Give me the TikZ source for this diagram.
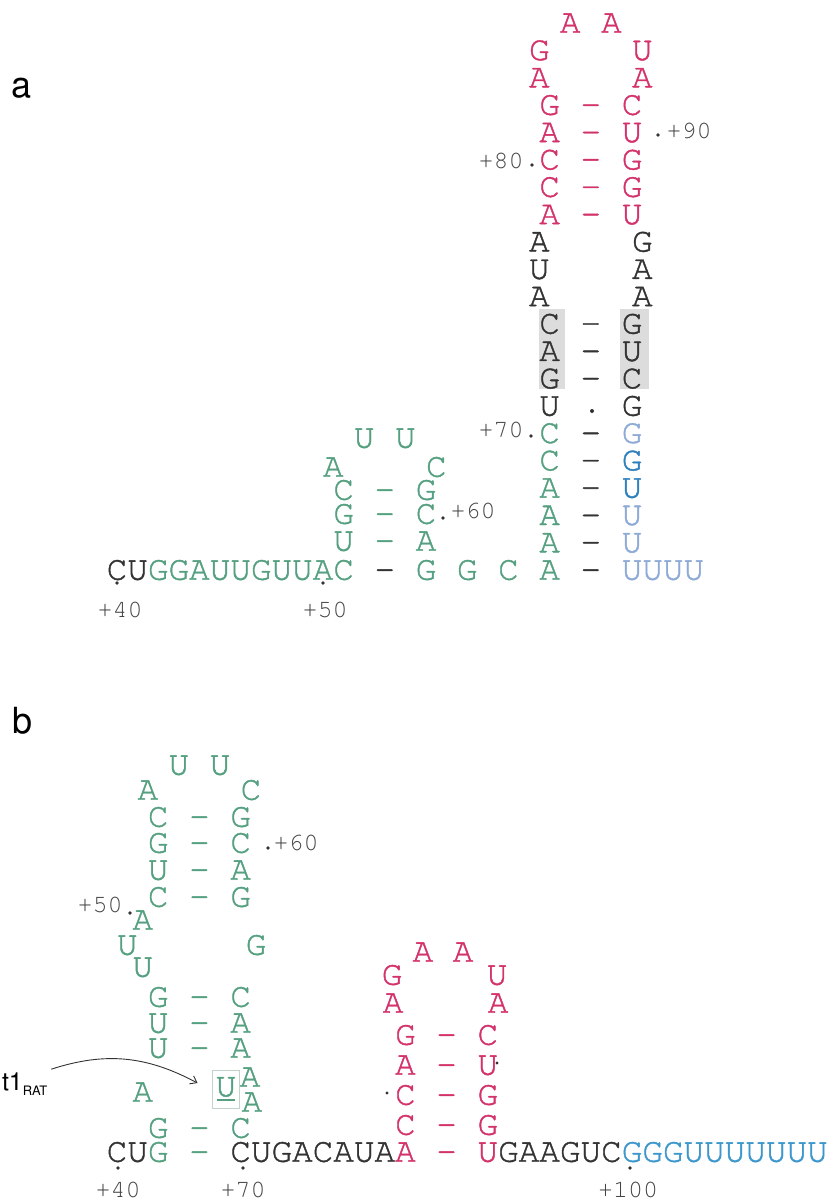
\documentclass[tikz,border=0pt]{standalone}
\usepackage[T1]{fontenc}
\usetikzlibrary{arrows.meta}
\definecolor{pk}{HTML}{D4326A}
\definecolor{gr}{HTML}{55A080}
\definecolor{dk}{HTML}{333333}
\definecolor{lb}{HTML}{8EAAD6}
\definecolor{mb}{HTML}{2E80BC}
\definecolor{bb}{HTML}{3C97CC}
\definecolor{lg}{HTML}{444444}
\definecolor{pairgray}{HTML}{DCDCDC}
\definecolor{boxc}{HTML}{C2D4CA}
\newcommand\ntfont{\fontfamily{pcr}\fontsize{34.33}{40}\selectfont}
\newcommand\labfont{\fontfamily{pcr}\fontsize{25}{30}\selectfont}
\newcommand\pnfont{\fontfamily{phv}\fontsize{36}{40}\selectfont}
% slightly heavier strokes for the sequence letters
\newcommand\heavy{\special{pdf:literal direct 2 Tr 0.4 w}}
% nucleotide on the grid of panel a: name, column, row, colour, letter
\newcommand\na[5]{\node[nt,text=#4] (#1) at ({117+20.6*(#2)},{-(23+27.35*(#3))-9.7}) {#5};}
% nucleotide at a column and a free height: name, column, y, colour, letter
\newcommand\nb[5]{\node[nt,text=#4] (#1) at ({117+20.6*(#2)},{-(#3)-9.7}) {#5};}
\tikzset{
  nt/.style={inner sep=0pt, outer sep=0pt, anchor=base, font=\ntfont\heavy},
  lab/.style={inner sep=0pt, outer sep=0pt, anchor=center, font=\labfont, text=lg},
  dotmark/.style={fill=dk},
  arr/.style={draw=dk, line width=0.9pt, -{Straight Barb[length=6pt,width=9pt]}},
}
\begin{document}
\begin{tikzpicture}[x=1pt,y=1pt]
\useasboundingbox (0,0) rectangle (831,-1203);
\fill[white] (0,0) rectangle (831,-1203);

% ---------------- panel a ----------------
\node[inner sep=0pt, anchor=base west, font=\pnfont, text=black] (pa) at (11,-97) {a};

% shaded pairs
\fill[pairgray] (539,-309) rectangle (565,-389);
\fill[pairgray] (620,-309) rectangle (649,-389);

% terminal loop and upper stem
\na{a0l}{22}{0}{pk}{A} \na{a0r}{24}{0}{pk}{A}
\na{a1l}{20.5}{1}{pk}{G} \na{a1r}{25.5}{1}{pk}{U}
\na{a2l}{20.5}{2}{pk}{A} \na{a2r}{25.5}{2}{pk}{A}
\na{a3l}{21}{3}{pk}{G} \na{a3d}{23}{3}{pk}{-} \na{a3r}{25}{3}{pk}{C}
\na{a4l}{21}{4}{pk}{A} \na{a4d}{23}{4}{pk}{-} \na{a4r}{25}{4}{pk}{U}
\na{a5l}{21}{5}{pk}{C} \na{a5d}{23}{5}{pk}{-} \na{a5r}{25}{5}{pk}{G}
\na{a6l}{21}{6}{pk}{C} \na{a6d}{23}{6}{pk}{-} \na{a6r}{25}{6}{pk}{G}
\na{a7l}{21}{7}{pk}{A} \na{a7d}{23}{7}{pk}{-} \na{a7r}{25}{7}{pk}{U}
% internal loop
\na{a8l}{20.5}{8}{dk}{A} \na{a8r}{25.5}{8}{dk}{G}
\na{a9l}{20.5}{9}{dk}{U} \na{a9r}{25.5}{9}{dk}{A}
\na{a10l}{20.5}{10}{dk}{A} \na{a10r}{25.5}{10}{dk}{A}
% lower stem
\na{a11l}{21}{11}{dk}{C} \na{a11d}{23}{11}{dk}{-} \na{a11r}{25}{11}{dk}{G}
\na{a12l}{21}{12}{dk}{A} \na{a12d}{23}{12}{dk}{-} \na{a12r}{25}{12}{dk}{U}
\na{a13l}{21}{13}{dk}{G} \na{a13d}{23}{13}{dk}{-} \na{a13r}{25}{13}{dk}{C}
\na{a14l}{21}{14}{dk}{U} \na{a14r}{25}{14}{dk}{G}
\fill[dk] (592,-411) circle (2);
\na{a15l}{21}{15}{gr}{C} \na{a15d}{23}{15}{dk}{-} \na{a15r}{25}{15}{lb}{G}
\na{a16l}{21}{16}{gr}{C} \na{a16d}{23}{16}{dk}{-} \na{a16r}{25}{16}{mb}{G}
\na{a17l}{21}{17}{gr}{A} \na{a17d}{23}{17}{lg}{-} \na{a17r}{25}{17}{mb}{U}
\na{a18l}{21}{18}{gr}{A} \na{a18d}{23}{18}{dk}{-} \na{a18r}{25}{18}{lb}{U}
\na{a19l}{21}{19}{gr}{A} \na{a19d}{23}{19}{dk}{-} \na{a19r}{25}{19}{lb}{U}

% small hairpin
\nb{s0l}{12}{438}{gr}{U} \nb{s0r}{14}{438}{gr}{U}
\nb{s1l}{10.5}{467}{gr}{A} \nb{s1r}{15.5}{467}{gr}{C}
\nb{s2l}{11}{490}{gr}{C} \nb{s2d}{13}{490}{gr}{-} \nb{s2r}{15}{490}{gr}{G}
\nb{s3l}{11}{514}{gr}{G} \nb{s3d}{13}{514}{gr}{-} \nb{s3r}{15}{514}{gr}{C}
\nb{s4l}{11}{541}{gr}{U} \nb{s4d}{13}{541}{gr}{-} \nb{s4r}{15}{541}{gr}{A}

% base line of panel a
\foreach \k/\ch/\col in {0/C/dk,1/U/dk,2/G/gr,3/G/gr,4/A/gr,5/U/gr,6/U/gr,7/G/gr,
  8/U/gr,9/U/gr,10/A/gr,11/C/gr,13/-/dk,15/G/gr,17/G/gr,19/C/gr,21/A/gr,23/-/dk,
  25/U/lb,26/U/lb,27/U/lb,28/U/lb}
  {\nb{ab\k}{\k}{570}{\col}{\ch}}

% numbering of panel a
\node[lab] (a80) at (501,-161) {+80}; \fill[dotmark] (532,-165) circle (1.8);
\node[lab] (a90) at (689,-131) {+90}; \fill[dotmark] (658,-135) circle (1.8);
\node[lab] (a70) at (501,-430) {+70}; \fill[dotmark] (531,-436) circle (1.8);
\node[lab] (a60) at (473,-511) {+60}; \fill[dotmark] (443,-518) circle (1.8);
\node[lab] (a40) at (120,-610) {+40}; \fill[dotmark] (117,-583) circle (1.8);
\node[lab] (a50) at (325,-610) {+50}; \fill[dotmark] (323,-583) circle (1.8);

% ---------------- panel b ----------------
\node[inner sep=0pt, anchor=base west, font=\pnfont, text=black] (pb) at (12,-733) {b};

% left hairpin
\nb{b0l}{3}{765}{gr}{U} \nb{b0r}{5}{765}{gr}{U}
\nb{b1l}{1.5}{790}{gr}{A} \nb{b1r}{6.5}{790}{gr}{C}
\nb{b2l}{2}{817}{gr}{C} \nb{b2d}{4}{817}{gr}{-} \nb{b2r}{6}{817}{gr}{G}
\nb{b3l}{2}{843}{gr}{G} \nb{b3d}{4}{843}{gr}{-} \nb{b3r}{6}{843}{gr}{C}
\nb{b4l}{2}{870}{gr}{U} \nb{b4d}{4}{870}{gr}{-} \nb{b4r}{6}{870}{gr}{A}
\nb{b5l}{2}{897}{gr}{C} \nb{b5d}{4}{897}{gr}{-} \nb{b5r}{6}{897}{gr}{G}
\nb{b6l}{1.25}{920}{gr}{A}
\nb{b7l}{0.5}{945}{gr}{U} \nb{b7r}{6.75}{945}{gr}{G}
\nb{b8l}{1.25}{967}{gr}{U}
\nb{b9l}{2}{997}{gr}{G} \nb{b9d}{4}{997}{gr}{-} \nb{b9r}{6}{997}{gr}{C}
\nb{b10l}{2}{1023}{gr}{U} \nb{b10d}{4}{1023}{gr}{-} \nb{b10r}{6}{1023}{gr}{A}
\nb{b11l}{2}{1048}{gr}{U} \nb{b11d}{4}{1048}{gr}{-} \nb{b11r}{6}{1048}{gr}{A}
\nb{b12l}{1.25}{1092}{gr}{A}
% the marked nucleotide, boxed and underlined
\node[nt, anchor=center, text=gr, draw=boxc, line width=0.9pt,
      minimum width=27pt, minimum height=38pt] (boxU) at (226,-1089)
      {\rlap{\hspace{1.3pt}\rule[-4.5pt]{18pt}{1.8pt}}U};
\nb{b12a}{6.46}{1077}{gr}{A} \nb{b12b}{6.55}{1102}{gr}{A}
\nb{b13l}{2}{1128}{gr}{G} \nb{b13d}{4}{1128}{gr}{-} \nb{b13r}{6}{1128}{gr}{C}

% right hairpin
\nb{c0l}{14.85}{952}{pk}{A} \nb{c0r}{16.8}{952}{pk}{A}
\nb{c1l}{13.35}{975}{pk}{G} \nb{c1r}{18.45}{975}{pk}{U}
\nb{c2l}{13.4}{1003}{pk}{A} \nb{c2r}{18.5}{1003}{pk}{A}
\nb{c3l}{14}{1035}{pk}{G} \nb{c3d}{16}{1035}{pk}{-} \nb{c3r}{18}{1035}{pk}{C}
\nb{c4l}{14}{1065}{pk}{A} \nb{c4d}{16}{1065}{pk}{-} \nb{c4r}{18}{1065}{pk}{U}
\nb{c5l}{14}{1095}{pk}{C} \nb{c5d}{16}{1095}{pk}{-} \nb{c5r}{18}{1095}{pk}{G}
\nb{c6l}{14}{1125}{pk}{C} \nb{c6d}{16}{1125}{pk}{-} \nb{c6r}{18}{1125}{pk}{G}
\fill[dotmark] (497,-1063) circle (1.6);
\fill[dotmark] (387,-1093) circle (1.6);

% base line of panel b
\foreach \k/\ch/\col in {0/C/dk,1/U/dk,2/G/gr,4/-/gr,6/C/dk,7/U/dk,8/G/dk,9/A/dk,
  10/C/dk,11/A/dk,12/U/dk,13/A/dk,14/A/pk,16/-/pk,18/U/pk,19/G/dk,20/A/dk,21/A/dk,
  22/G/dk,23/U/dk,24/C/dk,25/G/bb,26/G/bb,27/G/bb,28/U/bb,29/U/bb,30/U/bb,31/U/bb,
  32/U/bb,33/U/bb,34/U/bb}
  {\nb{bb\k}{\k}{1152}{\col}{\ch}}

% numbering of panel b
\node[lab] (b60) at (296,-843) {+60}; \fill[dotmark] (268,-848) circle (1.8);
\node[lab] (b50) at (100,-905) {+50}; \fill[dotmark] (130,-913) circle (1.8);
\node[lab] (b40) at (118,-1190) {+40}; \fill[dotmark] (118,-1168) circle (1.8);
\node[lab] (b70) at (243,-1190) {+70}; \fill[dotmark] (243,-1168) circle (1.8);
\node[lab] (b100) at (628,-1190) {+100}; \fill[dotmark] (630,-1168) circle (1.8);

% transcription start marker
\node[inner sep=0pt, outer sep=0pt, anchor=base west, text=black,
      font=\fontfamily{phv}\fontsize{25}{28}\selectfont] (t1) at (2,-1090)
      {t1\raisebox{-5pt}{\fontsize{13}{13}\selectfont RAT}};
\draw[arr] ([xshift=4pt,yshift=3pt]t1.north east) to[out=18,in=152]
      ([xshift=-15pt,yshift=6pt]boxU.west);
\end{tikzpicture}
\end{document}
